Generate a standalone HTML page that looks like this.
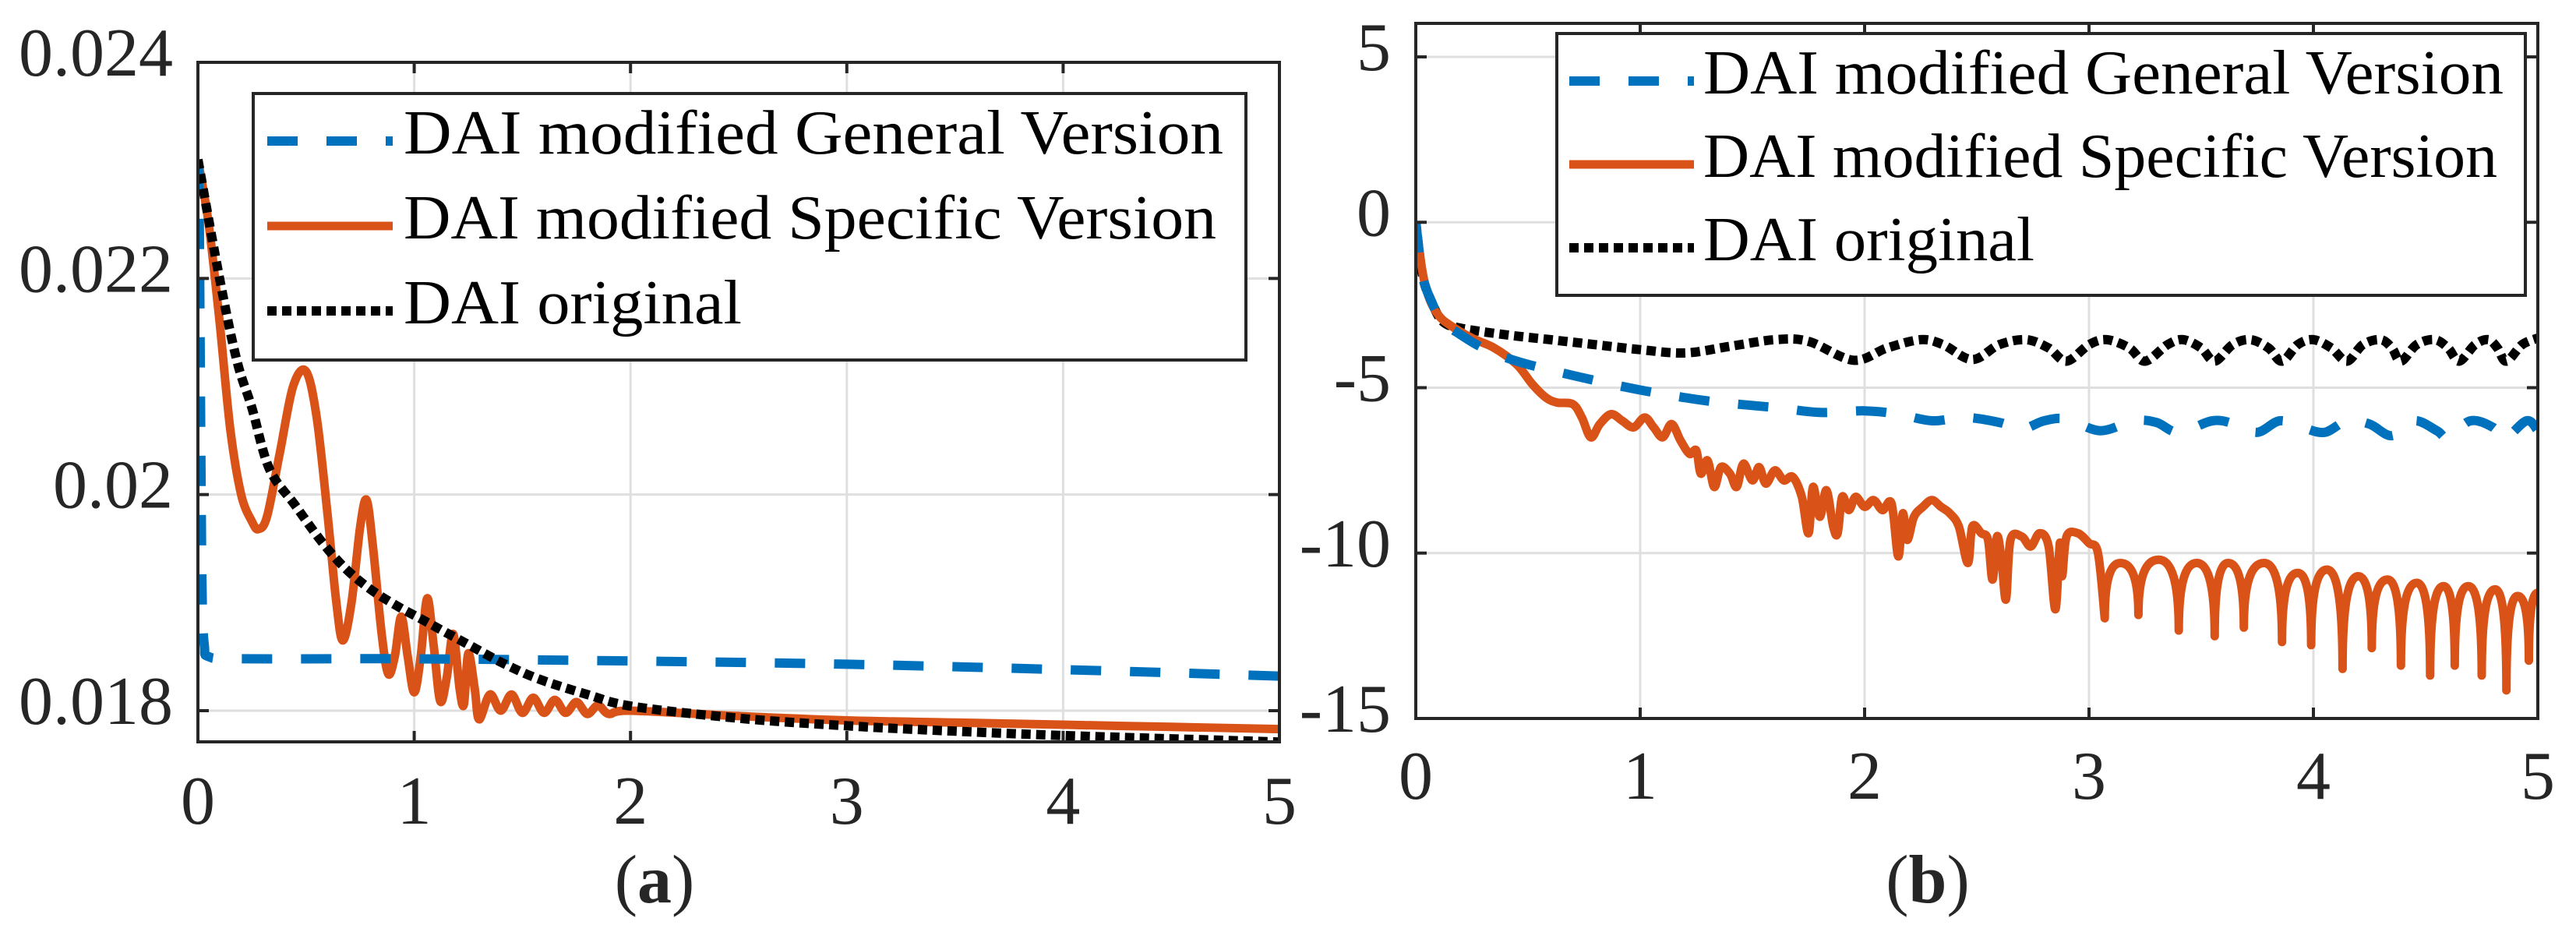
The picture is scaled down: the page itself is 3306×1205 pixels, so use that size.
<!DOCTYPE html>
<html><head><meta charset="utf-8"><style>
html,body{margin:0;padding:0;background:#fff;}
svg{display:block;}
svg text{font-family:"Liberation Serif","DejaVu Serif",serif;fill:#262626;}
</style></head><body>
<svg id="fig" width="3306" height="1205" viewBox="0 0 3306 1205" xmlns="http://www.w3.org/2000/svg">
<g id="chartA"></g>
<g id="chartB"></g>
</svg>
<script>
// ---- Chart (a) data ----
const aXTicks = [0,1,2,3,4,5];
const aYTicks = [0.018,0.02,0.022,0.024];
const aYTickLabels = ["0.018","0.02","0.022","0.024"];
const aGenX = [0,0.005,0.01,0.015,0.02,0.03,0.05,0.2,1,2,3,4,5];
const aGenY = [0.0231,0.0228,0.0215,0.020,0.0190,0.0186,0.01850,0.01848,0.01848,0.01846,0.01843,0.01838,0.01832];
const aSpecX = [0,0.05,0.1,0.15,0.2,0.25,0.28,0.32,0.38,0.44,0.5,0.55,0.6,0.64,0.67,0.71,0.75,0.78,0.81,0.85,0.88,0.91,0.94,0.97,1.0,1.03,1.06,1.09,1.12,1.15,1.18,1.21,1.23,1.25,1.28,1.30,1.35,1.40,1.45,1.50,1.55,1.60,1.65,1.70,1.75,1.80,1.85,1.90,2.0,2.5,3.0,3.5,4.0,4.5,5.0];
const aSpecY = [0.0231,0.0225,0.0216,0.0206,0.0200,0.01975,0.01968,0.0198,0.0204,0.0210,0.02114,0.0207,0.0198,0.0190,0.01865,0.0190,0.0197,0.01995,0.0195,0.0187,0.01834,0.0185,0.01887,0.0185,0.01817,0.0185,0.01904,0.0186,0.01809,0.0183,0.01871,0.0182,0.01806,0.01853,0.0182,0.01792,0.01815,0.01800,0.01815,0.01798,0.01812,0.01798,0.01810,0.01798,0.01808,0.01797,0.01805,0.01797,0.01800,0.01795,0.01791,0.01789,0.01787,0.01785,0.01783];
const aOrigX = [0,0.1,0.18,0.25,0.33,0.45,0.57,0.68,0.8,0.92,1.04,1.15,1.27,1.42,1.58,1.8,2.01,2.5,3,3.5,4,4.5,5];
const aOrigY = [0.0231,0.0220,0.02124,0.0208,0.02024,0.0199,0.01957,0.01932,0.01912,0.01897,0.01884,0.01872,0.01859,0.01843,0.01829,0.01815,0.01804,0.01793,0.01786,0.01781,0.01777,0.01774,0.01771];
// ---- Chart (b) data ----
const bXTicks = [0,1,2,3,4,5];
const bYTicks = [-15,-10,-5,0,5];
const bYTickLabels = ["-15","-10","-5","0","5"];
const bGenX = [0,0.03,0.07,0.12,0.2,0.3,0.45,0.7,1.0,1.3,1.6,1.8,2.0,2.15,2.3,2.45,2.6,2.7,2.8,2.9,3.05,3.2,3.3,3.4,3.55,3.65,3.75,3.85,3.95,4.05,4.15,4.25,4.35,4.45,4.55,4.6,4.7,4.8,4.85,4.95,5.0];
const bGenY = [0,-1.6,-2.4,-3.0,-3.4,-3.8,-4.2,-4.63,-5.07,-5.4,-5.6,-5.75,-5.7,-5.8,-6.0,-5.9,-6.05,-6.25,-6.0,-5.95,-6.3,-6.0,-6.05,-6.35,-6.0,-6.1,-6.35,-6.0,-6.2,-6.35,-6.0,-6.1,-6.45,-6.0,-6.3,-6.5,-6.0,-6.2,-6.55,-6.0,-6.3];
const bSpecX = [0,0.03,0.06,0.1,0.15,0.25,0.35,0.45,0.52,0.58,0.63,0.7,0.74,0.78,0.82,0.87,0.92,0.97,1.02,1.06,1.1,1.14,1.18,1.22,1.25,1.27,1.3,1.33,1.36,1.4,1.43,1.46,1.5,1.53,1.56,1.6,1.64,1.68,1.72,1.75,1.77,1.8,1.83,1.86,1.88,1.9,1.93,1.96,2.0,2.04,2.08,2.12,2.15,2.17,2.19,2.22,2.26,2.3,2.34,2.38,2.42,2.46,2.48,2.52,2.55,2.57,2.59,2.61,2.63,2.65,2.7,2.74,2.78,2.82,2.85,2.87,2.88,2.9,2.95,3.0,3.04,3.07,3.14,3.22,3.31,3.40,3.48,3.56,3.62,3.69,3.78,3.86,3.93,3.99,4.06,4.13,4.2,4.26,4.33,4.39,4.46,4.52,4.58,4.63,4.69,4.75,4.81,4.86,4.91,4.96,5.0];
const bSpecY = [0,-1.5,-2.3,-2.8,-3.1,-3.5,-3.8,-4.3,-4.9,-5.3,-5.45,-5.5,-5.9,-6.5,-6.1,-5.8,-6.0,-6.2,-5.9,-6.2,-6.5,-6.1,-6.6,-7.0,-6.9,-7.6,-7.2,-8.0,-7.4,-7.6,-8.0,-7.3,-7.8,-7.4,-7.9,-7.5,-7.8,-7.7,-8.3,-9.4,-8.0,-8.9,-8.1,-9.2,-9.4,-8.3,-8.7,-8.3,-8.6,-8.4,-8.7,-8.5,-10.1,-8.8,-9.6,-8.9,-8.6,-8.4,-8.6,-8.8,-9.2,-10.3,-9.2,-9.4,-9.6,-10.8,-9.5,-10.2,-11.4,-9.6,-9.5,-9.8,-9.4,-9.8,-11.7,-9.7,-10.7,-9.5,-9.4,-9.7,-10.0,-11.97,-10.3,-11.87,-10.2,-12.34,-10.3,-12.51,-10.3,-12.25,-10.3,-12.69,-10.6,-12.78,-10.5,-13.5,-10.7,-12.87,-10.8,-13.4,-10.9,-13.7,-11.0,-13.4,-11.0,-13.7,-11.1,-14.15,-11.3,-13.25,-11.2];
const bOrigX = [0,0.03,0.07,0.12,0.2,0.4,0.6,0.8,1.0,1.2,1.4,1.6,1.75,1.95,2.1,2.25,2.35,2.48,2.6,2.72,2.82,2.9,3.0,3.08,3.18,3.25,3.35,3.42,3.5,3.56,3.64,3.72,3.8,3.86,3.93,4.0,4.08,4.15,4.22,4.3,4.35,4.39,4.46,4.54,4.6,4.65,4.72,4.78,4.82,4.86,4.93,5.0];
const bOrigY = [0,-1.6,-2.4,-3.0,-3.2,-3.4,-3.55,-3.7,-3.85,-3.95,-3.75,-3.55,-3.6,-4.17,-3.8,-3.55,-3.7,-4.15,-3.7,-3.55,-3.8,-4.2,-3.7,-3.55,-3.8,-4.2,-3.7,-3.55,-3.8,-4.2,-3.7,-3.55,-3.8,-4.2,-3.7,-3.55,-3.8,-4.2,-3.7,-3.55,-3.8,-4.2,-3.7,-3.55,-3.8,-4.2,-3.7,-3.55,-3.8,-4.2,-3.7,-3.5];

const legendLabels = ["DAI modified General Version","DAI modified Specific Version","DAI original"];
const NS = "http://www.w3.org/2000/svg";
const BLUE="#0072BD", ORANGE="#D95319", BLACK="#000000", AX="#262626", GRID="#dfdfdf";
const FONT='"Liberation Serif", "DejaVu Serif", serif';

function mk(tag, attrs, parent){
  const e=document.createElementNS(NS,tag);
  for(const k in attrs) e.setAttribute(k,attrs[k]);
  if(tag==="text") e.setAttribute("font-family",FONT);
  parent.appendChild(e); return e;
}
function smoothPath(xs,ys,sx,sy){
  const P=xs.map((x,i)=>[sx(x),sy(ys[i])]);
  let d="M"+P[0][0].toFixed(1)+","+P[0][1].toFixed(1);
  for(let i=0;i<P.length-1;i++){
    const p0=P[Math.max(0,i-1)],p1=P[i],p2=P[i+1],p3=P[Math.min(P.length-1,i+2)];
    const c1=[p1[0]+(p2[0]-p0[0])/6,p1[1]+(p2[1]-p0[1])/6];
    const c2=[p2[0]-(p3[0]-p1[0])/6,p2[1]-(p3[1]-p1[1])/6];
    d+=" C"+c1[0].toFixed(1)+","+c1[1].toFixed(1)+" "+c2[0].toFixed(1)+","+c2[1].toFixed(1)+" "+p2[0].toFixed(1)+","+p2[1].toFixed(1);
  }
  return d;
}
function archPath(xs,ys,sx,sy,archFrom){
  let idx=xs.findIndex(x=>x>=archFrom);
  let d=smoothPath(xs.slice(0,idx+1),ys.slice(0,idx+1),sx,sy);
  for(let i=idx;i<xs.length-1;i++){
    const x1=sx(xs[i]),y1=sy(ys[i]),x2=sx(xs[i+1]),y2=sy(ys[i+1]);
    let cx,cy;
    if(ys[i+1]>ys[i]){cx=x1;cy=y2;}else{cx=x2;cy=y1;}
    d+=" Q"+cx.toFixed(1)+","+cy.toFixed(1)+" "+x2.toFixed(1)+","+y2.toFixed(1);
  }
  return d;
}

function drawChart(g, cfg){
  const {L,T,R,B,xmin,xmax,ymin,ymax}=cfg;
  const sx=x=>L+(x-xmin)/(xmax-xmin)*(R-L);
  const sy=y=>B-(y-ymin)/(ymax-ymin)*(B-T);
  const clipId=cfg.id+"-clip";
  const defs=mk("defs",{},g);
  const cp=mk("clipPath",{id:clipId},defs);
  mk("rect",{x:L,y:T,width:R-L,height:B-T},cp);
  const grid=mk("g",{},g);
  
  
  cfg.xTicks.forEach(t=>{ if(t>xmin&&t<xmax){ mk("line",{x1:sx(t),x2:sx(t),y1:T,y2:B,stroke:GRID,"stroke-width":3},grid);} });
  cfg.yTicks.forEach(t=>{ if(t>ymin&&t<ymax){ mk("line",{x1:L,x2:R,y1:sy(t),y2:sy(t),stroke:GRID,"stroke-width":3},grid);} });
  const sg=mk("g",{"clip-path":"url(#"+clipId+")"},g);
  const origP=mk("path",{d:smoothPath(cfg.origX,cfg.origY,sx,sy),fill:"none",stroke:BLACK,"stroke-width":12,"stroke-dasharray":"12 7"},sg);
  
  
  const specD = cfg.archFrom!=null ? archPath(cfg.specX,cfg.specY,sx,sy,cfg.archFrom) : smoothPath(cfg.specX,cfg.specY,sx,sy);
  const specP=mk("path",{d:specD,fill:"none",stroke:ORANGE,"stroke-width":11,"stroke-linejoin":"round"},sg);
  
  
  const genP=mk("path",{d:smoothPath(cfg.genX,cfg.genY,sx,sy),fill:"none",stroke:BLUE,"stroke-width":12,"stroke-dasharray":"39 37"},sg);
  
  
  if(cfg.blackTop){ sg.appendChild(origP); }
  const box=mk("rect",{x:L,y:T,width:R-L,height:B-T,fill:"none",stroke:AX,"stroke-width":4},g);
  
  
  cfg.xTicks.forEach(t=>{
    const x=sx(t);
    mk("line",{x1:x,x2:x,y1:B,y2:B-14,stroke:AX,"stroke-width":4},g);
    mk("line",{x1:x,x2:x,y1:T,y2:T+14,stroke:AX,"stroke-width":4},g);
    const tl=mk("text",{x:x,y:cfg.xLabelY,"text-anchor":"middle","font-size":88},g);
    tl.textContent=String(t);
    
    
  });
  cfg.yTicks.forEach((t,i)=>{
    const y=sy(t);
    mk("line",{x1:L,x2:L+14,y1:y,y2:y,stroke:AX,"stroke-width":4},g);
    mk("line",{x1:R,x2:R-14,y1:y,y2:y,stroke:AX,"stroke-width":4},g);
    const tl=mk("text",{x:cfg.yLabelX,y:y+17,"text-anchor":"end","font-size":88},g);
    tl.textContent=cfg.yTickLabels[i];
    
    
  });
  const lg=mk("g",{},g);
  
  
  const Lg=cfg.legend;
  mk("rect",{x:Lg.x,y:Lg.y,width:Lg.w,height:Lg.h,fill:"#fff",stroke:AX,"stroke-width":4},lg);
  const styles=[{stroke:BLUE,"stroke-dasharray":"39 37","stroke-width":12},{stroke:ORANGE,"stroke-width":11},{stroke:BLACK,"stroke-dasharray":"12 7","stroke-width":12}];
  Lg.rows.forEach((ry,i)=>{
    const entry=mk("g",{},lg);
    
    
    const a=Object.assign({x1:Lg.s1,x2:Lg.s2,y1:ry,y2:ry,fill:"none"},styles[i]);
    mk("line",a,entry);
    const tx=mk("text",{x:Lg.tx,y:ry+16,"font-size":80,textLength:Lg.lens[i],lengthAdjust:"spacingAndGlyphs",style:"fill:#000"},entry);
    tx.textContent=legendLabels[i];
  });
  const cap=mk("text",{x:cfg.capX,y:1158,"text-anchor":"middle","font-size":88},g);
  cap.innerHTML='(<tspan font-weight="bold">'+cfg.cap+'</tspan>)';
  
  
}

drawChart(document.getElementById("chartA"),{
  id:"a",L:254,T:80,R:1642,B:952,xmin:0,xmax:5,ymin:0.018-40/832*0.006,ymax:0.024,
  xTicks:aXTicks,yTicks:aYTicks,yTickLabels:aYTickLabels,
  genX:aGenX,genY:aGenY,specX:aSpecX,specY:aSpecY,origX:aOrigX,origY:aOrigY,blackTop:true,
  xLabelY:1057,yLabelX:222,capX:840,cap:"a",
  legend:{x:325,y:120,w:1274,h:342,rows:[181,290,399],s1:343,s2:504,tx:518,lens:[1052,1043,434]}
});
drawChart(document.getElementById("chartB"),{
  id:"b",L:1817,T:30,R:3257,B:922,xmin:0,xmax:5,ymin:-15,ymax:5+43/42.45,
  xTicks:bXTicks,yTicks:bYTicks,yTickLabels:bYTickLabels,
  genX:bGenX,genY:bGenY,specX:bSpecX,specY:bSpecY,origX:bOrigX,origY:bOrigY,archFrom:3.07,blackTop:false,
  xLabelY:1025,yLabelX:1785,capX:2474,cap:"b",
  legend:{x:1998,y:43,w:1243,h:336,rows:[104,211,318],s1:2014,s2:2174,tx:2186,lens:[1027,1019,425]}
});
</script>
</body></html>
